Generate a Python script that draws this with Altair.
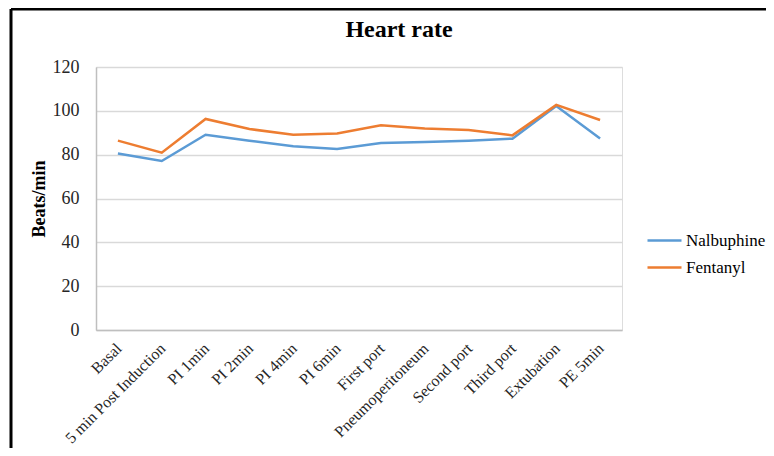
import altair as alt
import pandas as pd

categories = ["Basal", "5 min Post Induction", "PI 1min", "PI 2min", "PI 4min", "PI 6min",
              "First port", "Pneumoperitoneum", "Second port", "Third port", "Extubation", "PE 5min"]
nalbuphine = [80.5, 77.1, 89.1, 86.4, 83.8, 82.6, 85.3, 85.8, 86.4, 87.3, 102.2, 87.4]
fentanyl = [86.4, 80.9, 96.3, 91.7, 89.1, 89.7, 93.4, 91.9, 91.3, 88.8, 102.7, 95.8]
series_names = ["Nalbuphine", "Fentanyl"]
series_colors = ["#5B9BD5", "#ED7D31"]
y_ticks = [0, 20, 40, 60, 80, 100, 120]

rows = []
for name, vals in zip(series_names, [nalbuphine, fentanyl]):
    for c, v in zip(categories, vals):
        rows.append({"Stage": c, "Value": v, "Group": name})
df = pd.DataFrame(rows)

FONT = "Liberation Serif"

lines = alt.Chart(df).mark_line(strokeWidth=2.5).encode(
    x=alt.X("Stage:N", sort=categories, title=None,
            scale=alt.Scale(type="point", padding=0.5),
            axis=alt.Axis(labelAngle=-45, labelAlign="right", labelBaseline="top",
                          labelFontSize=16, labelFont=FONT, labelColor="#262626",
                          ticks=False, labelPadding=10, labelOffset=-5,
                          domainColor="#BFBFBF", domainWidth=1.5, grid=False)),
    y=alt.Y("Value:Q", title="Beats/min",
            scale=alt.Scale(domain=[0, 120], nice=False),
            axis=alt.Axis(values=y_ticks, ticks=False, labelPadding=17,
                          labelFontSize=18, labelFont=FONT, labelColor="#262626",
                          titleFont=FONT, titleFontSize=18, titleFontWeight="bold",
                          titleColor="#000000", titlePadding=4,
                          gridColor="#D9D9D9", gridWidth=1.5,
                          domainColor="#BFBFBF", domainWidth=1.5)),
    color=alt.Color("Group:N", sort=series_names,
                    scale=alt.Scale(domain=series_names, range=series_colors),
                    legend=alt.Legend(title=None, orient="none", legendX=550, legendY=155,
                                      symbolType="stroke", symbolSize=1156,
                                      symbolStrokeWidth=2.5, labelFont=FONT,
                                      labelFontSize=17, labelColor="#000000",
                                      labelOffset=3, rowPadding=-4)),
)

frame_df = pd.DataFrame({"k": [0]})
left_line = alt.Chart(frame_df).mark_rule(color="black", strokeWidth=3).encode(
    x=alt.value(-85), y=alt.value(-58), y2=alt.value(381))
top_line = alt.Chart(frame_df).mark_rule(color="black", strokeWidth=3).encode(
    x=alt.value(-85), x2=alt.value(670), y=alt.value(-58))

chart = alt.layer(lines, left_line, top_line).properties(
    width=526, height=263,
    title=alt.TitleParams("Heart rate", font=FONT, fontSize=24, fontWeight="bold",
                          color="#000000", anchor="middle", frame="group", dx=40,
                          baseline="alphabetic", offset=-29.5, dy=24),
    autosize=alt.AutoSizeParams(type="none"),
    padding={"left": 88, "top": 59, "right": 144, "bottom": 118},
).configure_view(stroke=None).configure(background="white")

chart.save("out.html", embed_options={"renderer": "svg", "actions": False})
